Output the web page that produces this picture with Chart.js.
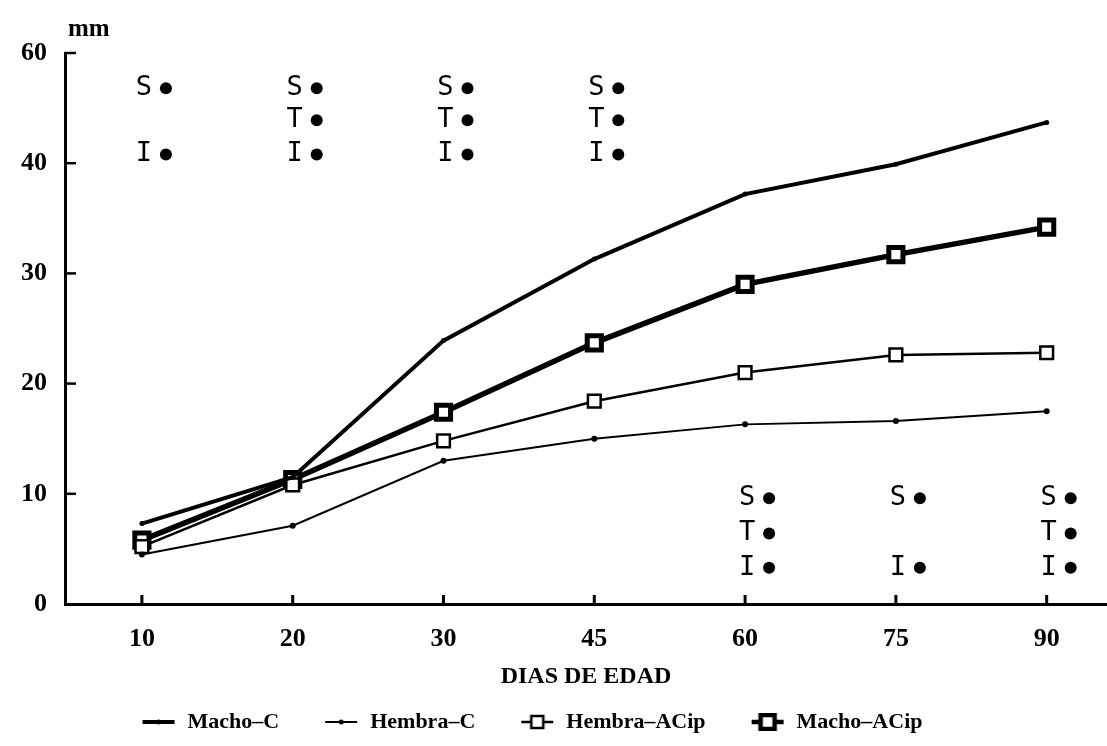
<!DOCTYPE html>
<html>
<head>
<meta charset="utf-8">
<style>
  body { margin: 0; background: #fff; }
</style>
<script src="https://cdn.jsdelivr.net/npm/chart.js@4/dist/chart.umd.min.js"></script>
</head>
<body>
<canvas id="grafico" width="1107" height="746"></canvas>
<script>
// dias de edad (categorias del eje x)
const dias = ['10', '20', '30', '45', '60', '75', '90'];
// etiquetas del eje y tal como aparecen impresas
const etiquetasY = ['0', '10', '20', '30', '40', '60'];

const machoC = [7.3, 11.5, 23.9, 31.3, 37.2, 39.9, 43.7];
const hembraC = [4.5, 7.1, 13.0, 15.0, 16.3, 16.6, 17.5];
const hembraACip = [5.2, 10.8, 14.8, 18.4, 21.0, 22.6, 22.8];
const machoACip = [5.8, 11.3, 17.4, 23.7, 29.0, 31.7, 34.2];

// letras de significancia por dia y su ubicacion
const sigLetras = ['SI', 'STI', 'STI', 'STI', 'STI', 'SI', 'STI'];
const sigUbicacion = ['arriba', 'arriba', 'arriba', 'arriba', 'abajo', 'abajo', 'abajo'];
const nivelLetra = {
    arriba: { S: 46.8, T: 43.9, I: 40.8 },
    abajo: { S: 9.6, T: 6.4, I: 3.3 }
};

const fuente = 'Liberation Serif, DejaVu Serif, serif';

function puntos(valores) {
    return valores.map((v, i) => ({ x: i, y: v }));
}

// muestras de la leyenda: linea + marcador a la derecha de un lienzo ancho
function muestra(grosor, tipo) {
    const c = document.createElement('canvas');
    c.width = 72;
    c.height = 18;
    const ctx = c.getContext('2d');
    ctx.strokeStyle = '#000';
    ctx.fillStyle = '#000';
    ctx.lineWidth = grosor;
    ctx.beginPath();
    ctx.moveTo(38, 9);
    ctx.lineTo(70, 9);
    ctx.stroke();
    if (tipo === 'punto') {
        ctx.beginPath();
        ctx.arc(54, 9, 2.5, 0, Math.PI * 2);
        ctx.fill();
    } else if (tipo === 'cuadro') {
        ctx.fillStyle = '#fff';
        ctx.fillRect(48, 3, 12, 12);
        ctx.lineWidth = 2.5;
        ctx.strokeRect(48, 3, 12, 12);
    } else if (tipo === 'cuadroGrueso') {
        ctx.fillStyle = '#fff';
        ctx.fillRect(47, 2, 14, 14);
        ctx.lineWidth = 4.5;
        ctx.strokeRect(47, 2, 14, 14);
    }
    return c;
}

const muestras = [
    muestra(4, 'punto'),
    muestra(2, 'punto'),
    muestra(2.5, 'cuadro'),
    muestra(4.5, 'cuadroGrueso')
];

// marcas de los ejes (hacia adentro) y letras S/T/I
const extras = {
    id: 'extras',
    beforeDraw(chart) {
        // la leyenda del original esta algo corrida a la izquierda
        chart.legend.right = chart.width - 80;
    },
    afterDatasetsDraw(chart) {
        const ctx = chart.ctx;
        const x = chart.scales.x;
        const y = chart.scales.y;
        const area = chart.chartArea;
        ctx.save();
        ctx.strokeStyle = '#000';
        ctx.fillStyle = '#000';

        ctx.lineWidth = 2.5;
        for (let v = 10; v <= 50; v += 10) {
            const py = y.getPixelForValue(v);
            ctx.beginPath();
            ctx.moveTo(area.left, py);
            ctx.lineTo(area.left + 11, py);
            ctx.stroke();
        }
        ctx.lineWidth = 3;
        dias.forEach((d, i) => {
            const px = x.getPixelForValue(i);
            ctx.beginPath();
            ctx.moveTo(px, area.bottom);
            ctx.lineTo(px, area.bottom - 9);
            ctx.stroke();
        });

        ctx.font = '27px "DejaVu Sans Mono", monospace';
        ctx.textAlign = 'center';
        ctx.textBaseline = 'middle';
        sigLetras.forEach((letras, i) => {
            const px = x.getPixelForValue(i);
            letras.split('').forEach(l => {
                const py = y.getPixelForValue(nivelLetra[sigUbicacion[i]][l]);
                ctx.fillText(l, px + 2, py);
                ctx.beginPath();
                ctx.arc(px + 24, py, 6, 0, Math.PI * 2);
                ctx.fill();
            });
        });

        ctx.font = 'bold 25px ' + fuente;
        ctx.textAlign = 'left';
        ctx.fillText('mm', area.left + 3, 30);
        ctx.restore();
    }
};

const ctx = document.getElementById('grafico').getContext('2d');
Chart.defaults.color = '#000';

new Chart(ctx, {
    type: 'line',
    data: {
        datasets: [
            {
                label: 'Macho\u2013C',
                data: puntos(machoC),
                borderColor: '#000',
                backgroundColor: '#000',
                borderWidth: 4,
                pointRadius: 2.5,
                pointBorderWidth: 0
            },
            {
                label: 'Hembra\u2013C',
                data: puntos(hembraC),
                borderColor: '#000',
                backgroundColor: '#000',
                borderWidth: 2,
                pointRadius: 3,
                pointBorderWidth: 0
            },
            {
                label: 'Hembra\u2013ACip',
                data: puntos(hembraACip),
                borderColor: '#000',
                backgroundColor: '#fff',
                borderWidth: 2.5,
                pointStyle: 'rect',
                pointRadius: 9,
                pointBorderWidth: 2.5
            },
            {
                label: 'Macho\u2013ACip',
                data: puntos(machoACip),
                borderColor: '#000',
                backgroundColor: '#fff',
                borderWidth: 5.5,
                pointStyle: 'rect',
                pointRadius: 10,
                pointBorderWidth: 5
            }
        ]
    },
    options: {
        responsive: false,
        animation: false,
        events: [],
        clip: false,
        layout: { autoPadding: false, padding: { top: 53, right: 0, bottom: 3, left: 0 } },
        elements: { line: { tension: 0 } },
        scales: {
            x: {
                type: 'linear',
                min: -0.51,
                max: 6.4,
                afterBuildTicks: s => { s.ticks = dias.map((d, i) => ({ value: i })); },
                afterFit: s => { s.height = 99; s.paddingLeft = 0; s.paddingRight = 0; },
                grid: { drawOnChartArea: false, drawTicks: false },
                border: { display: true, width: 3, color: '#000' },
                ticks: {
                    padding: 20,
                    maxRotation: 0,
                    font: { family: fuente, size: 26, weight: 'bold' },
                    callback: v => dias[v]
                },
                title: {
                    display: true,
                    text: 'DIAS DE EDAD',
                    font: { family: fuente, size: 24, weight: 'bold' },
                    padding: { top: 0, bottom: 12 }
                }
            },
            y: {
                min: 0,
                max: 50,
                afterFit: s => { s.width = 65; },
                grid: { drawOnChartArea: false, drawTicks: false },
                border: { display: true, width: 3, color: '#000' },
                ticks: {
                    stepSize: 10,
                    padding: 18,
                    font: { family: fuente, size: 26, weight: 'bold' },
                    callback: v => etiquetasY[v / 10]
                }
            }
        },
        plugins: {
            tooltip: { enabled: false },
            legend: {
                position: 'bottom',
                labels: {
                    usePointStyle: true,
                    pointStyleWidth: 72,
                    boxHeight: 18,
                    padding: 8,
                    font: { family: fuente, size: 22, weight: 'bold' },
                    generateLabels: chart => Chart.defaults.plugins.legend.labels.generateLabels(chart)
                        .map((l, i) => ({ ...l, pointStyle: muestras[i] }))
                }
            }
        }
    },
    plugins: [extras]
});
</script>
</body>
</html>
